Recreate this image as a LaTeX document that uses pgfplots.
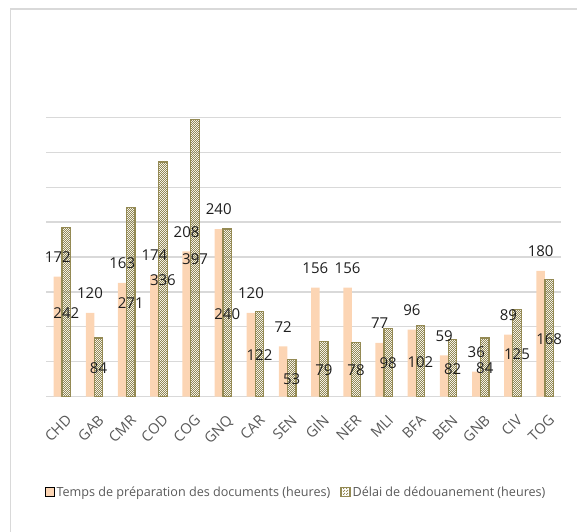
\documentclass[border=0pt]{standalone}
\usepackage{pgfplots}
\pgfplotsset{compat=1.18}
\usepackage{fontspec}
\setmainfont{Open Sans}
\usetikzlibrary{patterns}
\definecolor{peach}{RGB}{252,213,180}
\definecolor{olive}{RGB}{148,138,84}
\definecolor{gridc}{RGB}{217,217,217}
\definecolor{txt}{RGB}{89,89,89}
\definecolor{lab}{RGB}{30,30,30}
\pgfdeclarepatternformonly{finecheck}{\pgfpointorigin}{\pgfpoint{2.4pt}{2.4pt}}{\pgfpoint{2.4pt}{2.4pt}}{%
  \pgfpathrectangle{\pgfpointorigin}{\pgfpoint{1.2pt}{1.2pt}}%
  \pgfpathrectangle{\pgfpoint{1.2pt}{1.2pt}}{\pgfpoint{1.2pt}{1.2pt}}%
  \pgfusepath{fill}}
\begin{document}
\begin{tikzpicture}
\path[use as bounding box] (0,0) rectangle (577pt,531pt);
\draw[gridc, line width=1.3pt] (10.5pt,-5pt) -- (10.5pt,522pt) -- (590pt,522pt);
\begin{axis}[
  at={(46pt,134.3pt)}, anchor=south west,
  scale only axis, width=515pt, height=279.4pt,
  ybar=0pt, bar width=8.5pt,
  xmin=-0.5, xmax=15.5, ymin=0, ymax=400,
  /pgf/number format/assume math mode=true,
  xtick={0,...,15},
  xticklabels={CHD,GAB,CMR,COD,COG,GNQ,CAR,SEN,GIN,NER,MLI,BFA,BEN,GNB,CIV,TOG},
  xticklabel style={xshift=3pt, yshift=-17pt, rotate=45, anchor=north east, inner sep=0pt, font=\fontsize{14.5}{15}\selectfont, text=txt},
  ytick={0,50,...,400}, yticklabels={},
  ymajorgrids, grid style={draw=gridc, line width=1.2pt},
  axis line style={draw=none}, major tick length=0pt,
  clip=false,
  legend columns=2,
  legend style={at={(0.486,-0.341)}, anchor=center, draw=none, fill=none,
    font=\fontsize{12.6}{13}\selectfont, text=txt,
    /tikz/every even column/.append style={column sep=8pt}},
  legend image code/.code={\draw[#1] (0pt,-4.5pt) rectangle (9pt,4.5pt);},
]
\addplot[fill=peach, draw=none,
  nodes near coords, every node near coord/.append style={anchor=south, inner sep=0pt, yshift=14pt, font=\fontsize{15}{15}\selectfont, text=lab}]
  coordinates {(0,172) (1,120) (2,163) (3,174) (4,208) (5,240) (6,120) (7,72) (8,156) (9,156) (10,77) (11,96) (12,59) (13,36) (14,89) (15,180)};
\addlegendentry{Temps de préparation des documents (heures)}
\addplot[pattern=finecheck, pattern color=olive, draw=olive, line width=1.2pt,
  visualization depends on={rawy \as \rawy},
  nodes near coords, every node near coord/.append style={anchor=center, inner sep=0pt, yshift={-0.5*\rawy*0.6985-1}, font=\fontsize{15}{15}\selectfont, text=lab}]
  coordinates {(0,242) (1,84) (2,271) (3,336) (4,397) (5,240) (6,122) (7,53) (8,79) (9,78) (10,98) (11,102) (12,82) (13,84) (14,125) (15,168)};
\addlegendentry{Délai de dédouanement (heures)}
\end{axis}
\end{tikzpicture}
\end{document}
